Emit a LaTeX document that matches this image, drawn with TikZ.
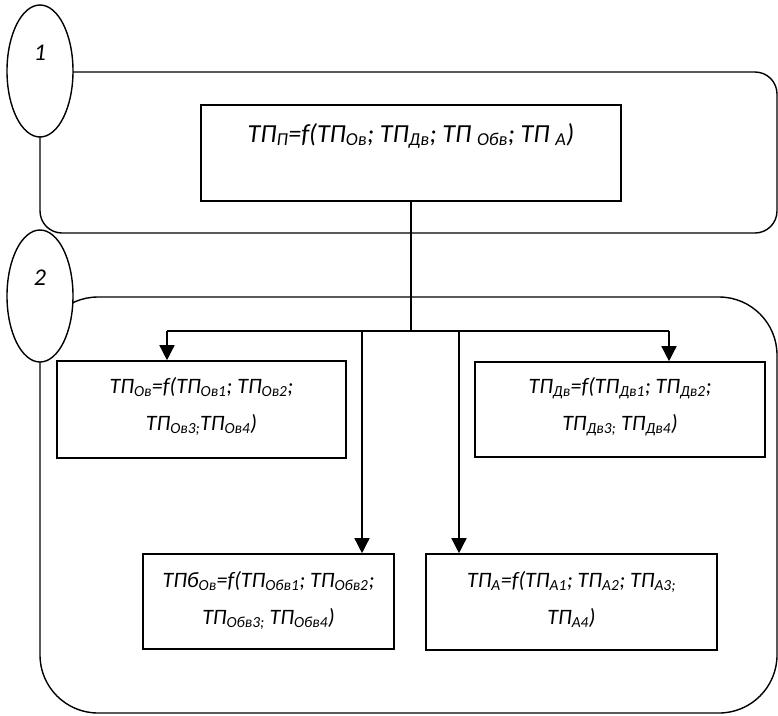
\documentclass[tikz,border=0pt]{standalone}
\usepackage{fontspec}
\setmainfont{Carlito}
\usepackage{tikz}
\usetikzlibrary{arrows.meta,positioning,shapes.geometric,calc}

\begin{document}
\begin{tikzpicture}[
  x=1pt, y=-1pt,
  font=\fontsize{22}{37}\selectfont\itshape,
  panel/.style={draw=black, line width=1.4pt, rounded corners=#1},
  stage/.style={draw=black, line width=1.4pt, ellipse, fill=white, minimum width=66pt, minimum height=132pt, inner sep=0pt, text height=17pt, text depth=39pt, font=\fontsize{24}{28}\selectfont\itshape},
  factor/.style={draw=black, line width=1.6pt, fill=white, inner sep=0pt, align=center},
  flow/.style={-{Triangle[length=15pt,width=15pt]}, line width=1.4pt},
  link/.style={line width=1.4pt}
]
\useasboundingbox (0,0) rectangle (778,715);

% Level frames
\draw[panel=22pt] (40,72) rectangle (777,233);
\draw[panel=58pt] (40,297) rectangle (777,713);

% Level markers
\node[stage] (lvl1) at (40,71) {1};
\node[stage] (lvl2) at (40,296) {2};

% Top level
\node[factor, minimum width=420pt, text height=37pt, text depth=59pt, font=\fontsize{26}{37}\selectfont\itshape] (tp) at (411,153)
  {ТП\textsubscript{П}=f(ТП\textsubscript{Ов}; ТП\textsubscript{Дв}; ТП \textsubscript{Обв}; ТП \textsubscript{А})};

% Second level
\node[factor, minimum width=289pt, text height=69pt, text depth=28pt] (ov) at (201.5,409.5)
  {ТП\textsubscript{Ов}=f(ТП\textsubscript{Ов1}; ТП\textsubscript{Ов2};\\ ТП\textsubscript{Ов3;}ТП\textsubscript{Ов4})};
\node[factor, minimum width=290pt, text height=68pt, text depth=27pt] (dv) at (620,409.5)
  {ТП\textsubscript{Дв}=f(ТП\textsubscript{Дв1}; ТП\textsubscript{Дв2};\\ ТП\textsubscript{Дв3;} ТП\textsubscript{Дв4})};
\node[factor, minimum width=251pt, text height=70pt, text depth=25pt] (obv) at (268.5,601.5)
  {ТПб\textsubscript{Ов}=f(ТП\textsubscript{Обв1}; ТП\textsubscript{Обв2};\\ ТП\textsubscript{Обв3;} ТП\textsubscript{Обв4})};
\node[factor, minimum width=291pt, text height=70pt, text depth=26pt] (av) at (571.5,602)
  {ТП\textsubscript{А}=f(ТП\textsubscript{А1}; ТП\textsubscript{А2}; ТП\textsubscript{А3;}\\ ТП\textsubscript{А4})};

% Branching
\coordinate (split) at (411,331);
\coordinate (jl) at (167,331);
\coordinate (jr) at (669,331);
\coordinate (jm1) at (362,331);
\coordinate (jm2) at (459,331);

\draw[link] (tp.south) -- (split);
\draw[link] (jl) -- (jr);
\draw[flow] (jl) -- (jl |- ov.north);
\draw[flow] (jr) -- (jr |- dv.north);
\draw[flow] (jm1) -- (jm1 |- obv.north);
\draw[flow] (jm2) -- (jm2 |- av.north);

\end{tikzpicture}
\end{document}
